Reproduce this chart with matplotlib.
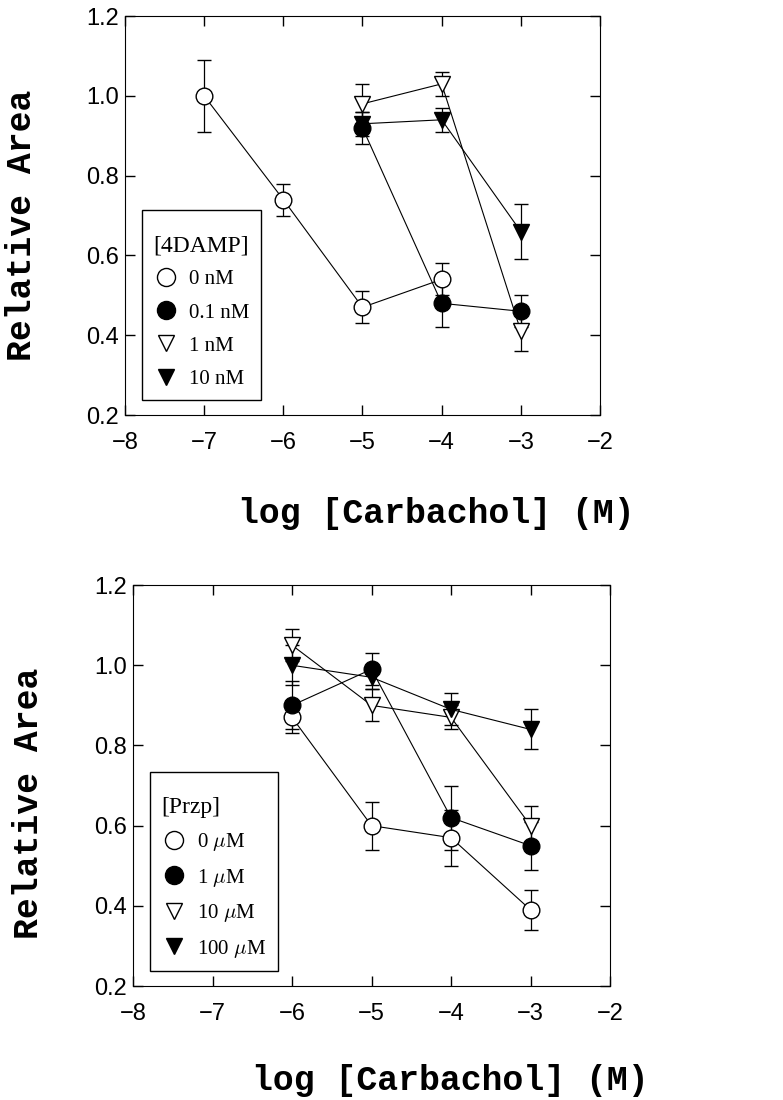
import numpy as np
import matplotlib as mpl
mpl.use('Agg')
mpl.rcParams.update({'font.family': 'Liberation Sans', 'font.size': 17,
                     'mathtext.fontset': 'cm'})
from matplotlib import pyplot as plt
from matplotlib.lines import Line2D
from matplotlib.offsetbox import DrawingArea

# top panel: 4DAMP
damp_labels = ['0 nM', '0.1 nM', '1 nM', '10 nM']
damp_x0 = [-7, -6, -5, -4]
damp_0 = [1.00, 0.74, 0.47, 0.54]
damp_0_err = [0.09, 0.04, 0.04, 0.04]
damp_x = [-5, -4, -3]
damp_01 = [0.92, 0.48, 0.46]
damp_01_err = [0.04, 0.06, 0.04]
damp_1 = [0.98, 1.03, 0.41]
damp_1_err = [0.05, 0.03, 0.05]
damp_10 = [0.93, 0.94, 0.66]
damp_10_err = [0.03, 0.03, 0.07]

# bottom panel: pirenzepine
przp_labels = [r'0 $\mu$M', r'1 $\mu$M', r'10 $\mu$M', r'100 $\mu$M']
przp_x = [-6, -5, -4, -3]
przp_0 = [0.87, 0.60, 0.57, 0.39]
przp_0_err = [0.04, 0.06, 0.07, 0.05]
przp_1 = [0.90, 0.99, 0.62, 0.55]
przp_1_err = [0.06, 0.04, 0.08, 0.06]
przp_10 = [1.05, 0.90, 0.87, 0.60]
przp_10_err = [0.04, 0.04, 0.03, 0.05]
przp_100 = [1.00, 0.97, 0.89, 0.84]
przp_100_err = [0.05, 0.03, 0.04, 0.05]

styles = [('o', 'white', 12), ('o', 'black', 12), ('v', 'white', 11), ('v', 'black', 11)]
label_font = {'family': 'Liberation Mono', 'weight': 'bold', 'size': 25}


def draw(ax, xs, ys, errs, labels, title, xlab_pos, ylab_pos):
    for x, y, e, (m, fc, ms) in zip(xs, ys, errs, styles):
        ax.errorbar(x, y, yerr=e, fmt=m + '-', color='black', mfc=fc, mec='black',
                    ms=ms, mew=1.0, lw=0.8, elinewidth=0.9, capsize=5, capthick=0.9)
    ax.set_xlim(-8, -2)
    ax.set_ylim(0.2, 1.2)
    ax.set_xticks(np.arange(-8, -1, 1))
    ax.set_yticks(np.arange(0.2, 1.21, 0.2))
    ax.yaxis.set_major_formatter(mpl.ticker.FormatStrFormatter('%.1f'))
    ax.tick_params(direction='in', length=7, width=1, top=True, right=True)
    ax.tick_params(axis='x', pad=12)
    ax.tick_params(axis='y', pad=4.5)
    ax.set_ylabel('Relative Area', fontdict=label_font)
    ax.set_xlabel('log [Carbachol] (M)', fontdict=label_font)
    ax.xaxis.set_label_coords(*xlab_pos)
    ax.yaxis.set_label_coords(*ylab_pos)
    handles = [Line2D([], [], marker=m, ls='none', mfc=fc, mec='black', ms=ms + 1, mew=1.0)
               for m, fc, ms in styles]
    leg = ax.legend(handles, labels, title=title, loc='lower left',
                    bbox_to_anchor=(0.036, 0.037), borderaxespad=0, fancybox=False,
                    framealpha=1, edgecolor='black', handletextpad=0.5, handlelength=1.2,
                    prop={'family': 'Liberation Serif', 'size': 15},
                    title_fontproperties={'family': 'Liberation Serif', 'size': 17},
                    borderpad=0.55, labelspacing=0.65)
    leg.get_frame().set_linewidth(1.0)
    leg._legend_box.align = 'left'
    # a little extra room above the title, as in the original
    leg._legend_box._children.insert(0, DrawingArea(0, 0))


fig = plt.figure(figsize=(7.83, 11), dpi=100)
ax1 = fig.add_axes([0.1596, 0.6227, 0.6067, 0.3627])
draw(ax1, [damp_x0, damp_x, damp_x, damp_x],
     [damp_0, damp_01, damp_1, damp_10],
     [damp_0_err, damp_01_err, damp_1_err, damp_10_err],
     damp_labels, '[4DAMP]', (0.655, -0.205), (-0.183, 0.476))

ax2 = fig.add_axes([0.1699, 0.1036, 0.6092, 0.3645])
draw(ax2, [przp_x] * 4,
     [przp_0, przp_1, przp_10, przp_100],
     [przp_0_err, przp_1_err, przp_10_err, przp_100_err],
     przp_labels, '[Przp]', (0.665, -0.195), (-0.185, 0.456))

fig.savefig('out.png', dpi=100)
